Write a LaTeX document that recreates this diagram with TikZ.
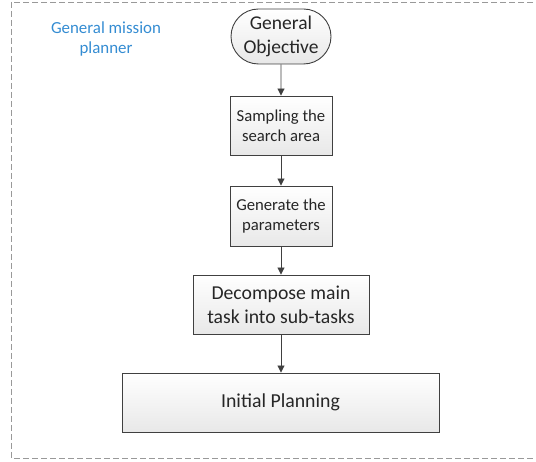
\documentclass[tikz,border=0pt]{standalone}
\usepackage{fontspec}
\setmainfont{Carlito}
\usetikzlibrary{arrows.meta,shapes.misc}
\definecolor{lineg}{RGB}{64,64,64}
\definecolor{labelblue}{RGB}{52,140,210}
\tikzset{
  box/.style={draw=lineg, line width=0.9pt, top color=white, bottom color=gray!18,
    minimum height=59pt, align=center, inner sep=0pt, text=black!85},
  term/.style={box, rounded rectangle, minimum height=55pt},
  flow/.style={draw=lineg, line width=0.9pt, -{Triangle[length=7pt,width=7pt]}},
  frame/.style={draw=gray!80, dash pattern=on 6pt off 3pt, line width=0.6pt}
}
\begin{document}
\begin{tikzpicture}[x=1pt,y=-1pt]
\useasboundingbox (0,0) rectangle (536,462);
\clip (0,0) rectangle (536,462);
\draw[frame] (11,2) rectangle (545,458);
\node[text=labelblue, align=center, font=\fontsize{16.9}{20.5}\selectfont] (lbl) at (106,39) {General mission\\planner};
\node[term, minimum width=100pt, font=\fontsize{19.5}{24}\selectfont] (obj) at (281,36.5) {General\\Objective};
\node[box, minimum width=102pt, font=\fontsize{16.7}{20}\selectfont] (samp) at (281,125.5) {Sampling the\\search area};
\node[box, minimum width=102pt, minimum height=60pt, font=\fontsize{16.7}{20}\selectfont] (gen) at (281,216) {Generate the\\parameters};
\node[box, minimum width=176pt, font=\fontsize{19.7}{24}\selectfont] (dec) at (281,304.5) {Decompose main\\task into sub-tasks};
\node[box, minimum width=317pt, font=\fontsize{19.8}{24}\selectfont] (init) at (280.5,402.5) {Initial Planning};
\draw[flow] (obj) -- (samp);
\draw[flow] (samp) -- (gen);
\draw[flow] (gen) -- (dec);
\draw[flow] (dec.south) -- (dec.south |- init.north);
\end{tikzpicture}
\end{document}
